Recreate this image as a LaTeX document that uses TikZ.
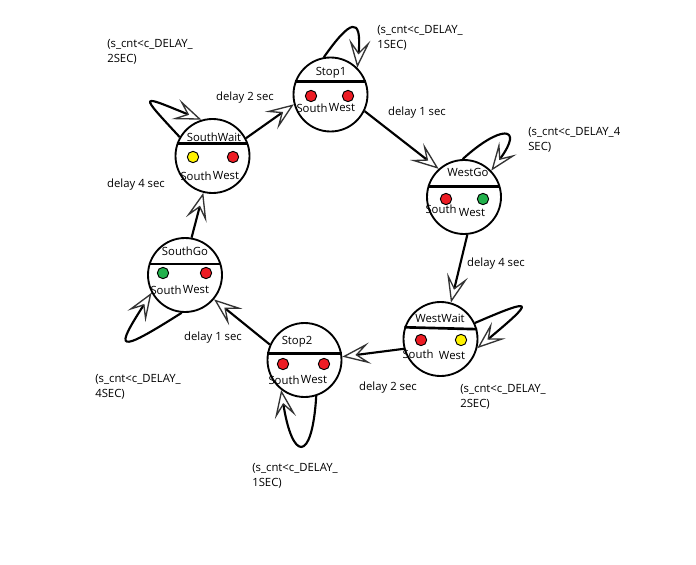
\documentclass[tikz,border=0pt]{standalone}
\usepackage{fontspec}
\setmainfont{Open Sans}
\usetikzlibrary{arrows.meta}

\definecolor{lampred}{RGB}{237,28,36}
\definecolor{lampyellow}{RGB}{255,242,0}
\definecolor{lampgreen}{RGB}{34,177,76}

\begin{document}
\begin{tikzpicture}[x=0.75pt,y=0.75pt,yscale=-1,xscale=1,
  state/.style={draw, circle, line width=1.4pt, minimum size=55.5pt, inner sep=0pt},
  lamp/.style={draw, circle, line width=0.7pt, minimum size=8.5pt, inner sep=0pt},
  txt/.style={inner sep=0.75pt, font=\fontsize{8.5}{11}\selectfont},
  cond/.style={txt, anchor=north west, align=left},
  chord/.style={line width=2pt},
  trans/.style={line width=1.6pt, -{Stealth[open, length=21pt, width=16pt, inset=9.5pt, line width=1pt, color=black!80]}}]
%set diagram left start at 0, and has height of 564
\path[fill=white] (0,0) rectangle (696,564);

% State Node
\node[state] (stopA) at (330.5,94.5) {};
\draw[chord] (stopA.160) -- (stopA.20) ;
\node[txt] (stopAname) at (331,73) {Stop1};
\node[lamp, fill=lampred] (stopAs) at (311,96) {};
\node[lamp, fill=lampred] (stopAw) at (348,96) {};
\node[txt] (stopAsl) at (312,108) {South};
\node[txt] (stopAwl) at (342,108) {West};
% State Node
\node[state] (westGo) at (464,197) {};
\draw[chord] (westGo.164) -- (westGo.16) ;
\node[txt] (westGoname) at (468,172) {WestGo};
\node[lamp, fill=lampred] (westGos) at (446,199) {};
\node[lamp, fill=lampgreen] (westGow) at (483,199) {};
\node[txt] (westGosl) at (441,209) {South};
\node[txt] (westGowl) at (472,213) {West};
% State Node
\node[state] (westWait) at (440.5,339) {};
\draw[chord] (westWait.162) -- (westWait.15) ;
\node[txt] (westWaitname) at (440,318) {WestWait};
\node[lamp, fill=lampred] (westWaits) at (421,340) {};
\node[lamp, fill=lampyellow] (westWaitw) at (461,340) {};
\node[txt] (westWaitsl) at (418,354) {South};
\node[txt] (westWaitwl) at (452,356) {West};
% State Node
\node[state] (stopB) at (304.5,360) {};
\draw[chord] (stopB.170) -- (stopB.10) ;
\node[txt] (stopBname) at (297,342) {Stop2};
\node[lamp, fill=lampred] (stopBs) at (283,364) {};
\node[lamp, fill=lampred] (stopBw) at (324,364) {};
\node[txt] (stopBsl) at (284,380) {South};
\node[txt] (stopBwl) at (314,380) {West};
% State Node
\node[state] (southGo) at (185,275) {};
\draw[chord] (southGo.163) -- (southGo.17) ;
\node[txt] (southGoname) at (185,251) {SouthGo};
\node[lamp, fill=lampgreen] (southGos) at (163,273) {};
\node[lamp, fill=lampred] (southGow) at (206,273) {};
\node[txt] (southGosl) at (166,290) {South};
\node[txt] (southGowl) at (196,290) {West};
% State Node
\node[state] (southWait) at (212.5,156) {};
\node[txt] (southWaitname) at (214,137) {SouthWait};
\draw[chord] (southWait.161) -- (southWait.19) ;
\node[lamp, fill=lampyellow] (southWaits) at (193,157) {};
\node[lamp, fill=lampred] (southWaitw) at (233,157) {};
\node[txt] (southWaitsl) at (196,176) {South};
\node[txt] (southWaitwl) at (226,176) {West};

%Straight Lines
\draw[trans] (southWait.28) -- (stopA.195) ;
\draw[trans] (stopA.-26) -- (westGo.132) ;
\draw[trans] (westGo.-85) -- (westWait.74) ;
\draw[trans] (westWait.195) -- (stopB.5) ;
\draw[trans] (stopB.156) -- (southGo.-40) ;
\draw[trans] (southGo.80) -- (southWait.-104) ;

%Curve Lines
\draw[trans] (stopA.100) .. controls (350,20) and (362,15) .. (stopA.45) ;
\draw[trans] (westGo.92) .. controls (500,125) and (525,125) .. (westGo.44) ;
\draw[trans] (westWait.25) .. controls (535,297) and (535,300) .. (westWait.-14) ;
\draw[trans] (stopB.-72) .. controls (312,465) and (292,460) .. (stopB.232) ;
\draw[trans] (southGo.-95) .. controls (115,355) and (115,350) .. (southGo.208) ;
\draw[trans] (southWait.150) .. controls (138,92) and (140,95) .. (southWait.107) ;

% Text Node
\node[txt] (delayA) at (245,98) {delay 2 sec};
\node[txt] (delayB) at (417,113) {delay 1 sec};
\node[txt] (delayC) at (496,264) {delay 4 sec};
\node[txt] (delayD) at (388,388) {delay 2 sec};
\node[txt] (delayE) at (213,338) {delay 1 sec};
\node[txt] (delayF) at (136,185) {delay 4 sec};
% Text Node
\node[cond] (condA) at (376,24) {(s\_cnt<c\_DELAY\_\\1SEC)};
\node[cond] (condB) at (527,126) {(s\_cnt<c\_DELAY\_4\\SEC)};
\node[cond] (condC) at (459,383) {(s\_cnt<c\_DELAY\_\\2SEC)};
\node[cond] (condD) at (251,462) {(s\_cnt<c\_DELAY\_\\1SEC)};
\node[cond] (condE) at (94,373) {(s\_cnt<c\_DELAY\_\\4SEC)};
\node[cond] (condF) at (106,38) {(s\_cnt<c\_DELAY\_\\2SEC)};

\end{tikzpicture}
\end{document}
